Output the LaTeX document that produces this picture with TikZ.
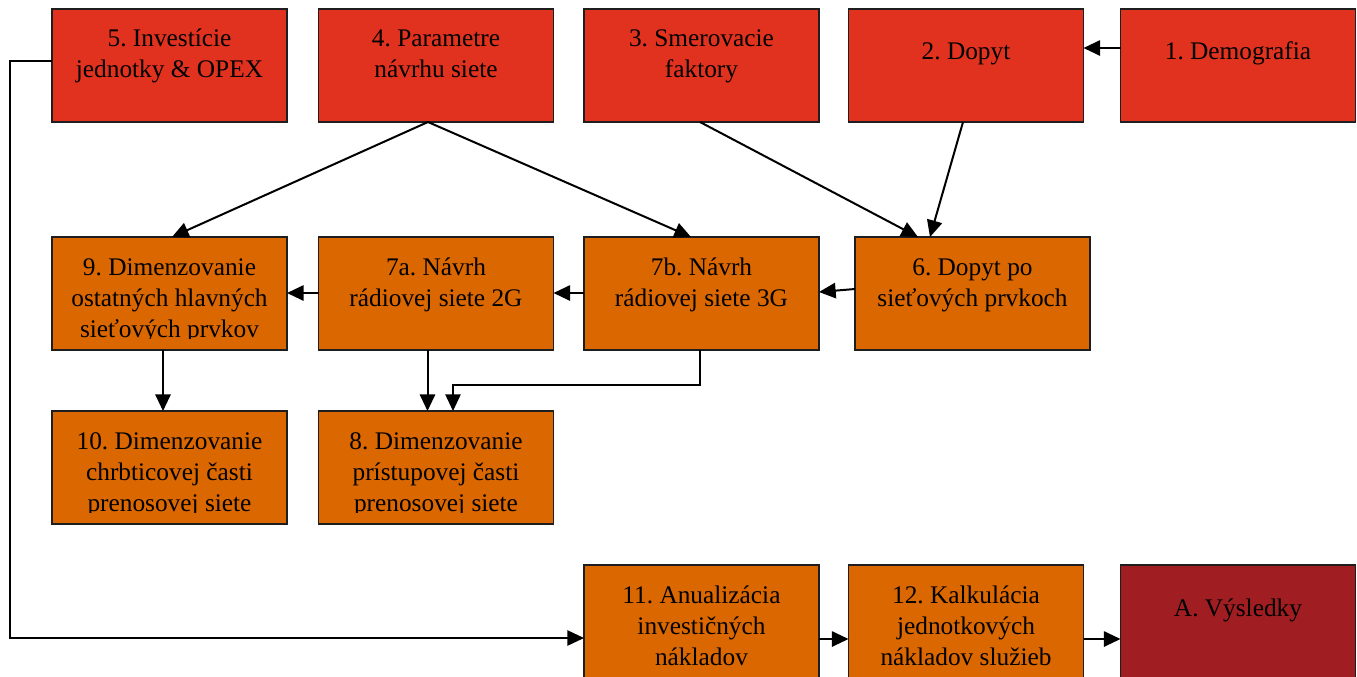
\documentclass[tikz,border=0pt]{standalone}
\usepackage{fontspec}
\setmainfont{Liberation Serif}
\usetikzlibrary{calc,arrows.meta}
\definecolor{cred}{HTML}{E0321F}
\definecolor{corange}{HTML}{DB6700}
\definecolor{cdark}{HTML}{A01E22}
\definecolor{cborder}{HTML}{1E1E1E}
\tikzset{
  box/.style={draw=cborder, line width=1.4pt, minimum width=176.25pt, minimum height=84.75pt, inner sep=0pt, outer sep=0pt},
  redbox/.style={box, fill=cred},
  orbox/.style={box, fill=corange},
  darkbox/.style={box, fill=cdark},
  txt/.style={align=center, inner sep=0pt, outer sep=0pt, font=\fontsize{19}{23.6}\selectfont, text=black},
  arr/.style={line width=1.5pt, -{Triangle[length=12.5pt,width=11.5pt]}},
  thin/.style={line width=1.2pt},
  thinarr/.style={line width=1.2pt, -{Triangle[length=12.5pt,width=11.5pt]}}
}
\newcommand\boxtext[3][39]{%
  \begin{scope}
    \clip (#2.north west) rectangle ($(#2.south east)+(0,-12)$);
    \node[txt, anchor=north] (t#2) at ($(#2.north)+(0,#1-26.67)$) {\rule{0pt}{20pt}#3};
  \end{scope}}
\begin{document}
\frenchspacing
\begin{tikzpicture}[x=0.75pt, y=-0.75pt]
\useasboundingbox (0,0) rectangle (1357,676);
% row 1
\node[redbox] (n5) at (169.5,65.5) {};
\node[redbox] (n4) at (436,65.5) {};
\node[redbox] (n3) at (701.5,65.5) {};
\node[redbox] (n2) at (966,65.5) {};
\node[redbox] (n1) at (1238,65.5) {};
% row 2
\node[orbox] (n9) at (169.5,293.5) {};
\node[orbox] (n7a) at (436,293.5) {};
\node[orbox] (n7b) at (701.5,293.5) {};
\node[orbox] (n6) at (972.5,293.5) {};
% row 3
\node[orbox] (n10) at (169.5,467.5) {};
\node[orbox] (n8) at (436,467.5) {};
% row 4
\node[orbox] (n11) at (701.5,621.5) {};
\node[orbox] (n12) at (966,621.5) {};
\node[darkbox] (nA) at (1238,621.5) {};
% texts
\boxtext[37]{n5}{5. Investície\\jednotky \& OPEX}
\boxtext[37]{n4}{4. Parametre\\návrhu siete}
\boxtext[37]{n3}{3. Smerovacie\\faktory}
\boxtext[50]{n2}{2. Dopyt}
\boxtext[50]{n1}{1. Demografia}
\boxtext[38]{n9}{9. Dimenzovanie\\ostatných hlavných\\sieťových prvkov}
\boxtext[38]{n7a}{7a. Návrh\\rádiovej siete 2G}
\boxtext[38]{n7b}{7b. Návrh\\rádiovej siete 3G}
\boxtext[38]{n6}{6. Dopyt po\\sieťových prvkoch}
\boxtext[38]{n10}{10. Dimenzovanie\\chrbticovej časti\\prenosovej siete}
\boxtext[38]{n8}{8. Dimenzovanie\\prístupovej časti\\prenosovej siete}
\boxtext[38]{n11}{11. Anualizácia\\investičných\\nákladov}
\boxtext[38]{n12}{12. Kalkulácia\\jednotkových\\nákladov služieb}
\boxtext[51]{nA}{A. Výsledky}
% connectors
\coordinate (cL) at (10,638);
\coordinate (c78) at (453,385);
\draw[arr] ($(n1.west)+(0,-17.5)$) -- ($(n2.east)+(0,-17.5)$);
\draw[thinarr] ($(n5.west)+(0,-4.5)$) -| (cL) -- ($(n11.west)+(0,16.5)$);
\draw[arr] ($(n4.south)+(-8,0)$) -- ($(n9.north)+(2.5,0)$);
\draw[arr] ($(n4.south)+(-8,0)$) -- ($(n7b.north)+(-10.5,0)$);
\draw[arr] ($(n3.south)+(-1.5,0)$) -- ($(n6.north)+(-54.5,0)$);
\draw[arr] ($(n2.south)+(-3,0)$) -- ($(n6.north)+(-42.5,0)$);
\draw[arr] ($(n6.west)+(0,-4.5)$) -- ($(n7b.east)+(0,-1.5)$);
\draw[arr] ($(n7b.west)+(0,-0.5)$) -- ($(n7a.east)+(0,-0.5)$);
\draw[arr] ($(n7a.west)+(0,-0.5)$) -- ($(n9.east)+(0,-0.5)$);
\draw[arr] ($(n9.south)+(-6.5,0)$) -- ($(n10.north)+(-6.5,0)$);
\draw[arr] ($(n7a.south)+(-8.5,0)$) -- ($(n8.north)+(-8.5,0)$);
\draw[thinarr] ($(n7b.south)+(-1.5,0)$) |- (c78) -- (c78 |- n8.north);
\draw[thin] ($(n10.south)+(-6.5,0)$) -- ($(n10.south)+(-6.5,0)$ |- cL);
\draw[thin] ($(n8.south)+(-8.5,0)$) -- ($(n8.south)+(-8.5,0)$ |- cL);
\draw[arr] ($(n11.east)+(0,17.5)$) -- ($(n12.west)+(0,17.5)$);
\draw[arr] ($(n12.east)+(0,17.5)$) -- ($(nA.west)+(0,17.5)$);
\end{tikzpicture}
\end{document}
